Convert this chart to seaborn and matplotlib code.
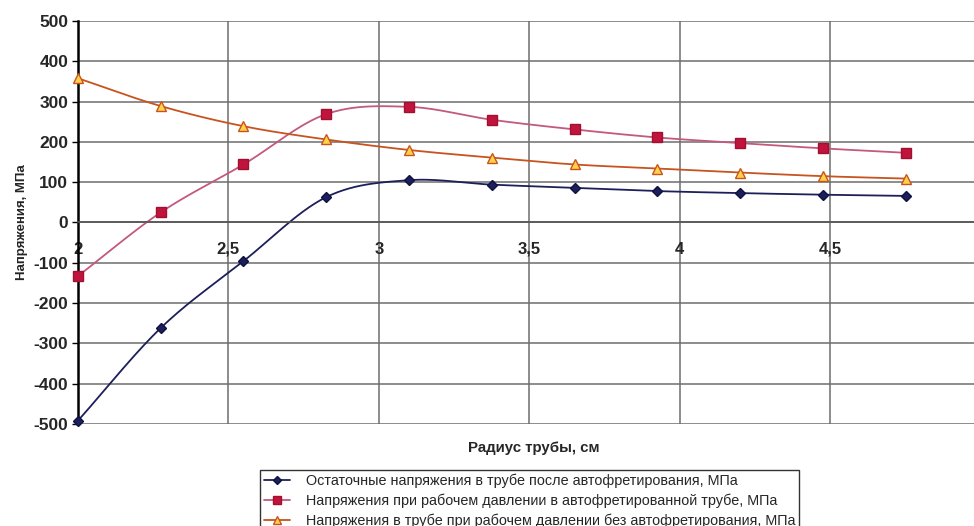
import numpy as np
import pandas as pd
import matplotlib
matplotlib.use("Agg")
import matplotlib.pyplot as plt
from matplotlib.lines import Line2D
import seaborn as sns

# ---- data ----
radius = [2.0, 2.275, 2.55, 2.825, 3.1, 3.375, 3.65, 3.925, 4.2, 4.475, 4.75]
residual = [-492, -262, -96, 63, 105, 94, 86, 78, 73, 69, 66]
autofret = [-133, 25, 144, 269, 287, 255, 231, 211, 197, 184, 173]
no_autofret = [358, 289, 239, 206, 180, 161, 144, 134, 124, 115, 109]

labels = [
    "Остаточные напряжения в трубе после автофретирования, МПа",
    "Напряжения при рабочем давлении в автофретированной трубе, МПа",
    "Напряжения в трубе при рабочем давлении без автофретирования, МПа",
]
xticks = [2, 2.5, 3, 3.5, 4, 4.5]
xtick_labels = ["2", "2,5", "3", "3,5", "4", "4,5"]
yticks = list(range(-500, 501, 100))

sns.set_theme(style="white")
plt.rcParams["font.family"] = ["Liberation Sans", "DejaVu Sans"]


def catmull_rom(x, y, n=30):
    x = np.asarray(x, float)
    y = np.asarray(y, float)
    P = np.column_stack([x, y])
    P = np.vstack([2 * P[0] - P[1], P, 2 * P[-1] - P[-2]])
    out = []
    t = np.linspace(0, 1, n)[:, None]
    for i in range(1, len(P) - 2):
        p0, p1, p2, p3 = P[i - 1], P[i], P[i + 1], P[i + 2]
        seg = 0.5 * ((2 * p1) + (-p0 + p2) * t + (2 * p0 - 5 * p1 + 4 * p2 - p3) * t ** 2
                     + (-p0 + 3 * p1 - 3 * p2 + p3) * t ** 3)
        out.append(seg if i == 1 else seg[1:])
    out = np.vstack(out)
    return out[:, 0], out[:, 1]


fig = plt.figure(figsize=(9.74, 5.26), dpi=100)
ax = fig.add_axes([0.080, 0.194, 0.927, 0.766])

series = [
    (residual, "#1c1f5a", "#1c1f5a", "#0f1240", "D", 5),
    (autofret, "#c4587f", "#c0143c", "#a01030", "s", 7),
    (no_autofret, "#c8531e", "#ffd24a", "#c8531e", "^", 7),
]

handles = []
for (vals, lc, mfc, mec, mk, ms), lab in zip(series, labels):
    sx, sy = catmull_rom(radius, vals)
    curve = pd.DataFrame({"x": sx, "y": sy})
    sns.lineplot(data=curve, x="x", y="y", ax=ax, color=lc, linewidth=1.3,
                 sort=False, estimator=None)
    pts = pd.DataFrame({"x": radius, "y": vals})
    ax.plot(pts["x"], pts["y"], linestyle="none", marker=mk, markersize=ms,
            markerfacecolor=mfc, markeredgecolor=mec, markeredgewidth=1.0,
            zorder=5, clip_on=False)
    handles.append(Line2D([0], [0], color=lc, linewidth=1.3, marker=mk,
                          markersize=ms - 1, markerfacecolor=mfc, markeredgecolor=mec))

ax.set_xlim(2, 5)
ax.set_ylim(-500, 500)

for s in ["top", "right"]:
    ax.spines[s].set_visible(False)
ax.spines["left"].set_color("black")
ax.spines["left"].set_linewidth(1.8)
ax.spines["bottom"].set_position(("data", 0))
ax.spines["bottom"].set_color("#555555")
ax.spines["bottom"].set_linewidth(1.2)

ax.set_yticks(yticks)
ax.set_yticklabels([str(v) for v in yticks], fontsize=12.5, fontweight="bold")
ax.set_xticks(xticks)
ax.set_xticklabels(xtick_labels, fontsize=12, fontweight="bold")
ax.tick_params(axis="y", left=True, length=4, width=1, color="black", pad=3)
ax.tick_params(axis="x", bottom=False, pad=8)

ax.grid(True, color="#6e6e6e", linewidth=1.1)
ax.set_axisbelow(True)

ax.set_xlabel("")
ax.set_ylabel("Напряжения, МПа", fontsize=9.5, fontweight="bold", labelpad=4)
fig.text(0.548, 0.148, "Радиус трубы, см", ha="center", va="center",
         fontsize=10.8, fontweight="bold")

leg = fig.legend(handles, labels, loc="upper left", bbox_to_anchor=(0.267, 0.106),
                 borderaxespad=0, frameon=True, fancybox=False, fontsize=10.4,
                 handlelength=1.8, handletextpad=1.1, labelspacing=0.36,
                 borderpad=0.25)
leg.get_frame().set_edgecolor("black")
leg.get_frame().set_linewidth(1.0)

fig.savefig("out.png", dpi=100)
